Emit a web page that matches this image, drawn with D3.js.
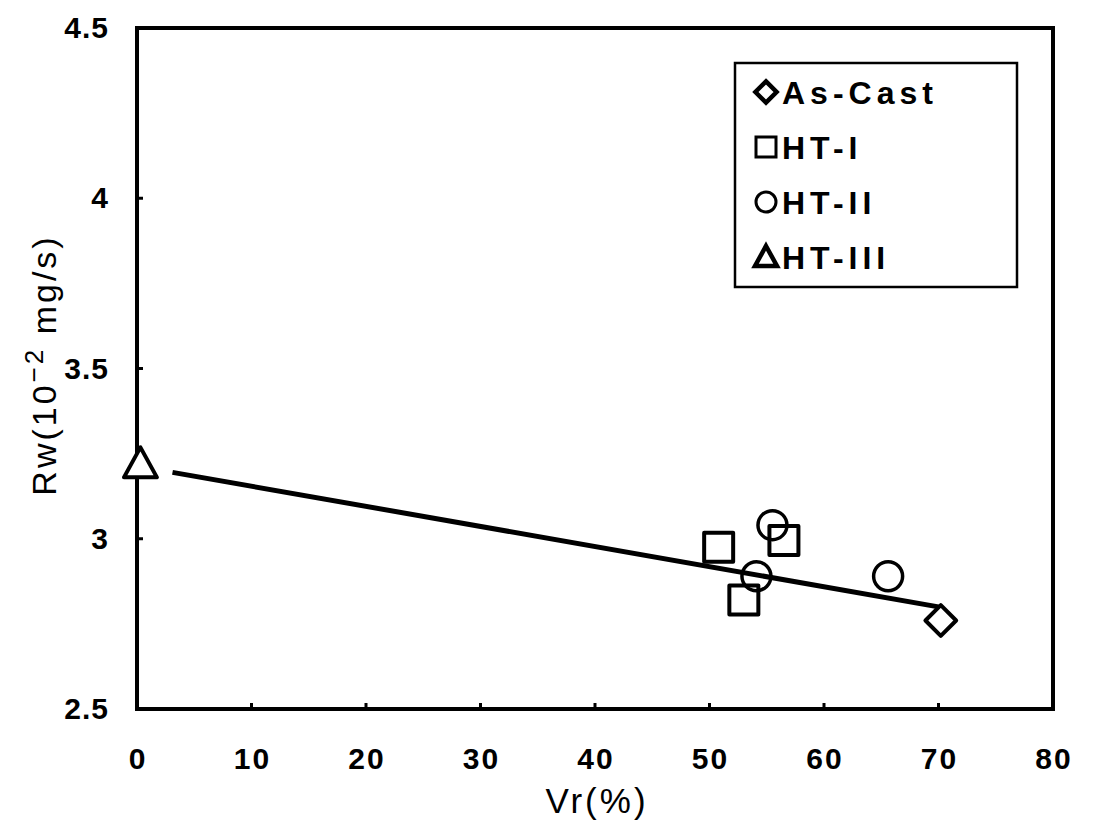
<!DOCTYPE html>
<html>
<head>
<meta charset="utf-8">
<script src="https://cdn.jsdelivr.net/npm/d3@7"></script>
<style>
  html, body { margin: 0; padding: 0; background: #fff; }
  svg { display: block; font-family: "Liberation Sans", Arial, sans-serif; }
</style>
</head>
<body>
<svg id="chart" width="1094" height="828"></svg>
<script>
// series: [Vr %, Rw]
const asCast = [[70.2, 2.76]];
const ht1 = [[50.8, 2.975], [56.5, 2.995], [53.0, 2.82]];
const ht2 = [[55.5, 3.04], [54.1, 2.89], [65.6, 2.89]];
const ht3 = [[0.3, 3.22]];
const fitLine = [[3.1, 3.195], [70.0, 2.8]];

const xTicks = [0, 10, 20, 30, 40, 50, 60, 70, 80];
const yTicks = [2.5, 3, 3.5, 4, 4.5];
const yTickLabels = ['2.5', '3', '3.5', '4', '4.5'];

const legendItems = [
    { label: 'As-Cast', shape: 'diamond' },
    { label: 'HT-I', shape: 'square' },
    { label: 'HT-II', shape: 'circle' },
    { label: 'HT-III', shape: 'triangle' },
];

const frame = { left: 137, right: 1053, top: 28, bottom: 709 };

const svg = d3.select('#chart');

const x = d3.scaleLinear().domain([0, 80]).range([frame.left, frame.right]);
const y = d3.scaleLinear().domain([2.5, 4.5]).range([frame.bottom, frame.top]);

// inward tick marks
svg.append('g')
    .selectAll('line')
    .data(xTicks.slice(1, -1))
    .join('line')
    .attr('x1', d => x(d)).attr('x2', d => x(d))
    .attr('y1', frame.bottom).attr('y2', frame.bottom - 6)
    .attr('stroke', '#000').attr('stroke-width', 3);

svg.append('g')
    .selectAll('line')
    .data(yTicks.slice(1, -1))
    .join('line')
    .attr('x1', frame.left).attr('x2', frame.left + 6)
    .attr('y1', d => y(d)).attr('y2', d => y(d))
    .attr('stroke', '#000').attr('stroke-width', 3);

// tick labels
svg.append('g')
    .selectAll('text')
    .data(xTicks)
    .join('text')
    .attr('x', d => x(d) + 1)
    .attr('y', 769)
    .attr('text-anchor', 'middle')
    .attr('font-size', 30)
    .attr('font-weight', 'bold')
    .attr('letter-spacing', 2)
    .text(d => d);

svg.append('g')
    .selectAll('text')
    .data(yTicks)
    .join('text')
    .attr('x', 109)
    .attr('y', d => y(d) + 10)
    .attr('text-anchor', 'end')
    .attr('font-size', 30)
    .attr('font-weight', 'bold')
    .attr('letter-spacing', 1)
    .text((d, i) => yTickLabels[i]);

// axis titles
svg.append('text')
    .attr('x', 597)
    .attr('y', 813)
    .attr('text-anchor', 'middle')
    .attr('font-size', 35)
    .attr('letter-spacing', 3)
    .text('Vr(%)');

const yTitle = svg.append('text')
    .attr('transform', 'translate(56,365) rotate(-90)')
    .attr('text-anchor', 'middle')
    .attr('font-size', 34)
    .attr('letter-spacing', 3);
yTitle.append('tspan').text('Rw(10');
yTitle.append('tspan').attr('dy', -13).attr('font-size', 26).text('\u22122');
yTitle.append('tspan').attr('dy', 13).text(' mg/s)');

// fit line
svg.append('path')
    .datum(fitLine)
    .attr('d', d3.line().x(d => x(d[0])).y(d => y(d[1])))
    .attr('fill', 'none')
    .attr('stroke', '#000')
    .attr('stroke-width', 5);

// markers
const symbolPath = {
    square: s => `M${-s / 2},${-s / 2}h${s}v${s}h${-s}Z`,
    diamond: s => `M0,${-s * 0.53}L${s * 0.53},0L0,${s * 0.53}L${-s * 0.53},0Z`,
    triangle: s => `M0,${-s * 0.55}L${s * 0.55},${s * 0.45}L${-s * 0.55},${s * 0.45}Z`,
};

function drawMarkers(data, shape, size) {
    const g = svg.append('g');
    if (shape === 'circle') {
        g.selectAll('circle').data(data).join('circle')
            .attr('cx', d => x(d[0])).attr('cy', d => y(d[1]))
            .attr('r', size / 2)
            .attr('fill', 'none').attr('stroke', '#000').attr('stroke-width', 3.5);
    } else {
        g.selectAll('path').data(data).join('path')
            .attr('transform', d => `translate(${x(d[0])},${y(d[1])})`)
            .attr('d', symbolPath[shape](size))
            .attr('fill', shape === 'triangle' ? '#fff' : 'none')
            .attr('stroke', '#000').attr('stroke-width', 4)
            .attr('stroke-linejoin', 'round');
    }
}

drawMarkers(ht1, 'square', 29);
drawMarkers(ht2, 'circle', 29);
drawMarkers(asCast, 'diamond', 29);

// frame
svg.append('rect')
    .attr('x', frame.left).attr('y', frame.top)
    .attr('width', frame.right - frame.left)
    .attr('height', frame.bottom - frame.top)
    .attr('fill', 'none').attr('stroke', '#000').attr('stroke-width', 4);

drawMarkers(ht3, 'triangle', 30);

// legend
const legend = svg.append('g');
legend.append('rect')
    .attr('x', 735).attr('y', 63)
    .attr('width', 282).attr('height', 224)
    .attr('fill', '#fff').attr('stroke', '#000').attr('stroke-width', 2.5);

const rows = legend.selectAll('g.row')
    .data(legendItems)
    .join('g')
    .attr('class', 'row')
    .attr('transform', (d, i) => `translate(766,${92 + i * 55})`);

rows.each(function (d) {
    const g = d3.select(this);
    if (d.shape === 'circle') {
        g.append('circle').attr('r', 10).attr('fill', 'none')
            .attr('stroke', '#000').attr('stroke-width', 3);
    } else if (d.shape === 'square') {
        g.append('path').attr('d', symbolPath.square(20)).attr('fill', 'none')
            .attr('stroke', '#000').attr('stroke-width', 3);
    } else if (d.shape === 'diamond') {
        g.append('path').attr('d', symbolPath.diamond(20)).attr('fill', 'none')
            .attr('stroke', '#000').attr('stroke-width', 4.5);
    } else {
        g.append('path').attr('d', symbolPath.triangle(20)).attr('fill', 'none')
            .attr('stroke', '#000').attr('stroke-width', 4.5);
    }
});

rows.append('text')
    .attr('x', 16)
    .attr('y', 12)
    .attr('font-size', 32)
    .attr('font-weight', 'bold')
    .attr('letter-spacing', 5)
    .text(d => d.label);
</script>
</body>
</html>
